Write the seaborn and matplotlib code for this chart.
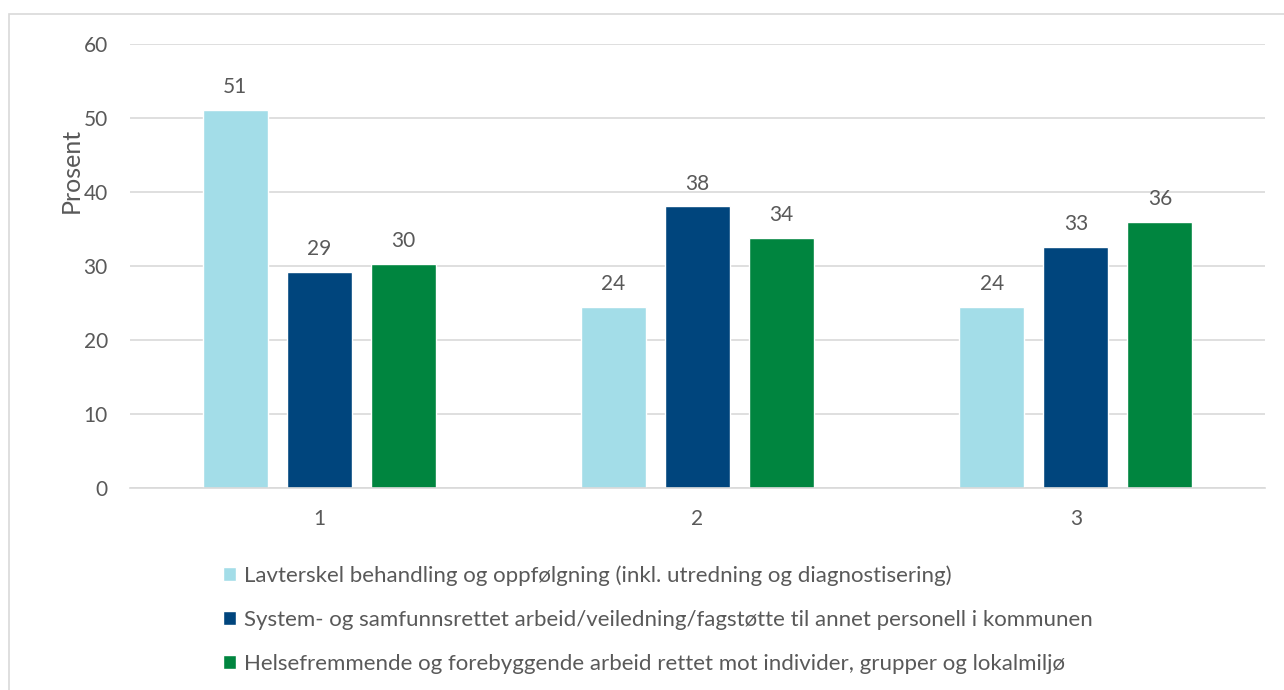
import pandas as pd
import matplotlib.pyplot as plt
import seaborn as sns
from matplotlib.patches import Rectangle

# Data
groups = ["1", "2", "3"]
series = [
    "Lavterskel behandling og oppfølgning (inkl. utredning og diagnostisering)",
    "System- og samfunnsrettet arbeid/veiledning/fagstøtte til annet personell i kommunen",
    "Helsefremmende og forebyggende arbeid rettet mot individer, grupper og lokalmiljø",
]
lavterskel = [51.1, 24.5, 24.5]
system = [29.2, 38.1, 32.6]
helse = [30.3, 33.8, 36.0]
colors = ["#A3DDE8", "#00457D", "#00853F"]

df = pd.DataFrame({"gruppe": groups, series[0]: lavterskel, series[1]: system, series[2]: helse})
long_df = df.melt(id_vars="gruppe", var_name="serie", value_name="prosent")

sns.set_style("white")
plt.rcParams["font.family"] = ["Lato", "DejaVu Sans"]
text_color = "#595959"
fs = 15

fig = plt.figure(figsize=(12.84, 6.9), dpi=100)
ax = fig.add_axes([130 / 1284, 1 - 488 / 690, 1135 / 1284, 444 / 690])

sns.barplot(data=long_df, x="gruppe", y="prosent", hue="serie", palette=colors,
            width=0.666, gap=0.226, ax=ax, errorbar=None, saturation=1)

for c in ax.containers:
    ax.bar_label(c, fmt="%.0f", padding=9, fontsize=fs, color=text_color)

ax.set_ylim(0, 60)
ax.set_xlim(-0.5, 2.5)
ax.set_yticks(range(0, 61, 10))
ax.yaxis.grid(True, color="#D9D9D9", linewidth=1.2)
ax.set_axisbelow(True)
for s in ["top", "right", "left"]:
    ax.spines[s].set_visible(False)
ax.spines["bottom"].set_color("#D9D9D9")
ax.spines["bottom"].set_linewidth(1.2)
ax.tick_params(axis="both", length=0, labelsize=fs, labelcolor=text_color)
ax.tick_params(axis="y", pad=16)
ax.tick_params(axis="x", pad=15)
ax.set_xlabel("")
ax.set_ylabel("Prosent", fontsize=18, color=text_color)
ax.yaxis.set_label_coords(-0.042, 0.716)

handles, labels = ax.get_legend_handles_labels()
ax.legend_.remove()
fig.legend(handles, labels, loc="upper left", bbox_to_anchor=(203 / 1284, 1 - 545 / 690),
           frameon=False, ncol=1, fontsize=16, labelcolor=text_color,
           handlelength=0.6, handleheight=0.6, handletextpad=0.35, labelspacing=1.08)

# light border around the chart area
fig.patches.append(Rectangle((9 / 1284, -0.1), 1.2, 1 - 14 / 690 + 0.1, transform=fig.transFigure,
                             fill=False, edgecolor="#D9D9D9", linewidth=1.2))

fig.savefig("out.png", dpi=100)
